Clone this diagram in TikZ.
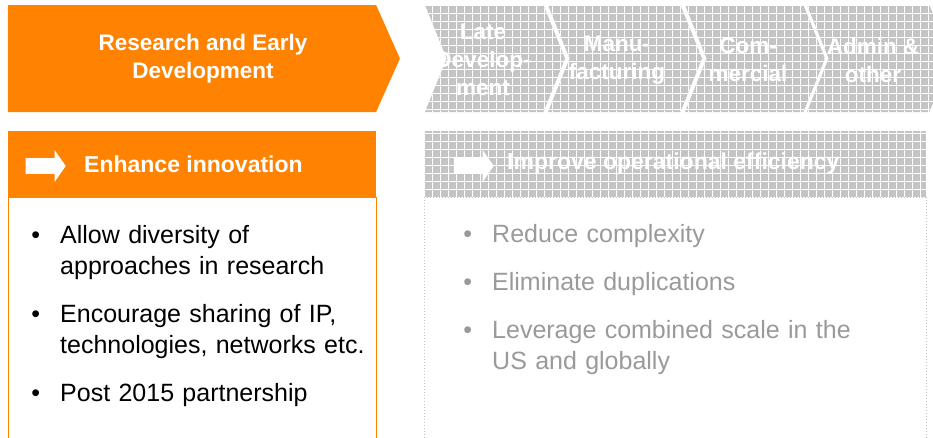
\documentclass[tikz,border=0pt]{standalone}
\usepackage{fontspec}
\setmainfont{Liberation Sans}
\usepackage{enumitem}
\usetikzlibrary{shapes.symbols, shapes.arrows, positioning, calc, patterns.meta}
\definecolor{mso_orange}{HTML}{FF8200}
\definecolor{mso_grey}{HTML}{C4C4C4}
\definecolor{mso_greytext}{HTML}{9A9A9A}
\tikzset{
  texture/.style={preaction={fill=mso_grey},preaction={pattern={Hatch[distance=8pt,angle=0,line width=0.7pt]},pattern color=white}},
  phase/.style={shape=signal,signal to=east,signal pointer angle=132,draw=none,fill=mso_orange,minimum height=107pt,inner sep=0pt},
  phase_grey/.style={phase,signal from=west,signal pointer angle=136,fill=none,texture},
  phaselabel/.style={text=white,font=\fontsize{22.5}{28}\selectfont\bfseries,align=center,inner sep=0pt},
  goalhead/.style={rectangle,draw=none,fill=mso_orange,minimum width=368pt,minimum height=66pt,inner sep=0pt},
  goalhead_grey/.style={goalhead,fill=none,minimum width=502pt,texture},
  goalbody/.style={rectangle,draw=mso_orange,line width=1pt,fill=white,minimum width=368pt,minimum height=260pt,inner sep=0pt},
  goalbody_grey/.style={goalbody,draw=mso_grey,dotted,minimum width=502pt},
  goaltitle/.style={anchor=west,text=white,font=\fontsize{23}{26}\selectfont\bfseries,inner sep=0pt},
  pointer/.style={single arrow,fill=white,draw=none,single arrow head extend=8pt,single arrow tip angle=110,
    minimum height=40pt,minimum width=32pt,inner sep=7.5pt},
  bullets/.style={anchor=base west,align=left,inner sep=0pt,font=\fontsize{25}{31}\selectfont},
}
\setlist[itemize]{label=\textbullet,topsep=0pt,partopsep=0pt,parsep=0pt,itemsep=17pt,leftmargin=24pt,labelsep=20pt}

\begin{document}
\begin{tikzpicture}[x=1pt,y=-1pt]
  \useasboundingbox (0,0) rectangle (933,437);
  \node[phase,minimum width=392pt] (red) at (192,58.5) {};
  \node[phase_grey,minimum width=140pt] (late) at (495,58.5) {};
  \node[phase_grey,minimum width=154pt] (manu) at (625,58.5) {};
  \node[phase_grey,minimum width=140pt] (comm) at (755,58.5) {};
  \node[phase_grey,minimum width=144pt] (admin) at (879,58.5) {};
  \node[phaselabel] (redtext) at (203,59) {Research and Early\\Development};
  \node[phaselabel] (latetext) at (483,60) {Late\\Develop-\\ment};
  \node[phaselabel] (manutext) at (617,60) {Manu-\\facturing};
  \node[phaselabel] (commtext) at (748,60) {Com-\\mercial};
  \node[phaselabel] (admintext) at (873,60) {Admin \&\\other};

  \node[goalhead] (innov) at (192,164) {};
  \node[goalbody,anchor=north] (innovbody) at (innov.south) {};
  \node[pointer] (innovarrow) at (43,166) {};
  \node[goaltitle] (innovtitle) at (84,164) {Enhance innovation};

  \node[goalhead_grey] (effic) at (675,164) {};
  \node[goalbody_grey,anchor=north] (efficbody) at (effic.south) {};
  \node[pointer] (efficarrow) at (471,166) {};
  \node[goaltitle] (effictitle) at (507,164) {Improve operational efficiency};

  \node[bullets,text width=330pt] (innovlist) at (36,212) {%
    \begin{itemize}
      \item Allow diversity of\newline approaches in research
      \item Encourage sharing of IP,\newline technologies, networks etc.
      \item Post 2015 partnership
    \end{itemize}};
  \node[bullets,text width=430pt,text=mso_greytext] (efficlist) at (468,211) {%
    \begin{itemize}
      \item Reduce complexity
      \item Eliminate duplications
      \item Leverage combined scale in the\newline US and globally
    \end{itemize}};
\end{tikzpicture}
\end{document}
